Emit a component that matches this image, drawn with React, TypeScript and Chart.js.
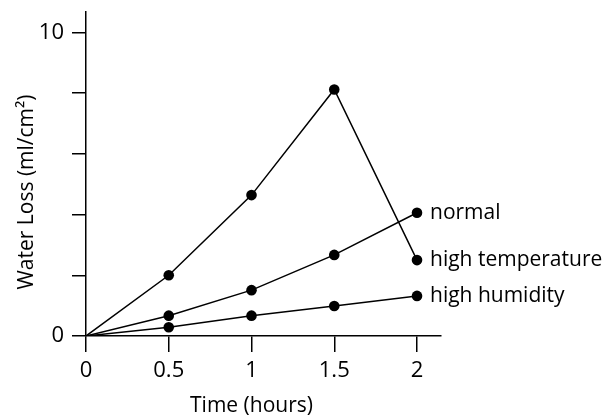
import { useEffect, useRef } from 'react';
import { Chart, registerables } from 'chart.js';

Chart.register(...registerables);

const times = [0, 0.5, 1, 1.5, 2];
const highTemperature = [0, 2.0, 4.64, 8.12, 2.5];
const normal = [0, 0.67, 1.51, 2.67, 4.06];
const highHumidity = [0, 0.29, 0.67, 0.99, 1.32];
const seriesNames = ['high temperature', 'normal', 'high humidity'];
const xTickValues = [0, 0.5, 1, 1.5, 2];
const yTickValues = [0, 2, 4, 6, 8, 10];
const yLabeledTicks = [0, 10];
const xTitle = 'Time (hours)';
const yTitle = 'Water Loss (ml/cm²)';

const FONT = '"Open Sans", sans-serif';

export default function App() {
  const ref = useRef<HTMLCanvasElement>(null);
  useEffect(() => {
    const seriesValues = [highTemperature, normal, highHumidity];
    const labelPlugin = {
      id: 'labels',
      afterDraw(chart: any) {
        const ctx = chart.ctx;
        ctx.save();
        ctx.fillStyle = '#000';
        ctx.font = `21px ${FONT}`;
        ctx.textBaseline = 'middle';
        chart.data.datasets.forEach((ds: any, i: number) => {
          const meta = chart.getDatasetMeta(i);
          const last = meta.data[meta.data.length - 1];
          ctx.textAlign = 'left';
          ctx.fillText(ds.label, last.x + 13, last.y);
        });
        const xs = chart.scales.x;
        ctx.textAlign = 'center';
        ctx.fillText(xTitle, xs.getPixelForValue(1), 406);
        ctx.translate(27, 192);
        ctx.rotate(-Math.PI / 2);
        ctx.fillText(yTitle, 0, 0);
        ctx.restore();
      },
    };
    const chart = new Chart(ref.current!, {
      type: 'line',
      data: {
        datasets: seriesValues.map((vals, i) => ({
          label: seriesNames[i],
          data: times.map((t, j) => ({ x: t, y: vals[j] })),
          borderColor: '#000',
          backgroundColor: '#000',
          borderWidth: 1.5,
          pointRadius: times.map((t) => (t === 0 ? 0 : 5.3)),
          pointBackgroundColor: '#000',
          pointBorderWidth: 0,
          tension: 0,
          fill: false,
        })),
      },
      options: {
        animation: false,
        responsive: false,
        layout: { padding: { top: 12, right: 174, left: 0, bottom: 0 } },
        plugins: { legend: { display: false }, tooltip: { enabled: false } },
        scales: {
          x: {
            type: 'linear',
            min: 0,
            max: 2.145,
            afterFit: (s: any) => {
              s.height = 81;
              s.paddingLeft = 0;
              s.paddingRight = 0;
            },
            afterBuildTicks: (s: any) => {
              s.ticks = xTickValues.map((v) => ({ value: v }));
            },
            grid: {
              display: true,
              drawOnChartArea: false,
              drawTicks: true,
              tickLength: 16,
              color: '#000',
              lineWidth: 1.5,
            },
            border: { display: true, color: '#000', width: 1.5 },
            ticks: {
              font: { family: FONT, size: 22 },
              color: '#000',
              padding: 6,
              maxRotation: 0,
              autoSkip: false,
              callback: (v: any) => String(v),
            },
          },
          y: {
            type: 'linear',
            min: 0,
            max: 10.67,
            afterFit: (s: any) => {
              s.width = 86;
              s.paddingTop = 0;
              s.paddingBottom = 0;
            },
            afterBuildTicks: (s: any) => {
              s.ticks = yTickValues.map((v) => ({ value: v }));
            },
            grid: {
              display: true,
              drawOnChartArea: false,
              drawTicks: true,
              tickLength: 14,
              color: '#000',
              lineWidth: 1.5,
            },
            border: { display: true, color: '#000', width: 1.5 },
            ticks: {
              font: { family: FONT, size: 22 },
              color: '#000',
              padding: 8,
              autoSkip: false,
              callback: (v: any) => (yLabeledTicks.includes(v) ? String(v) : ''),
            },
          },
        },
      },
      plugins: [labelPlugin],
    });
    return () => chart.destroy();
  }, []);
  return (
    <div style={{ position: 'absolute', left: 0, top: 0, width: 615, height: 417, background: '#fff' }}>
      <canvas ref={ref} width={615} height={417} style={{ display: 'block', width: 615, height: 417 }} />
    </div>
  );
}
